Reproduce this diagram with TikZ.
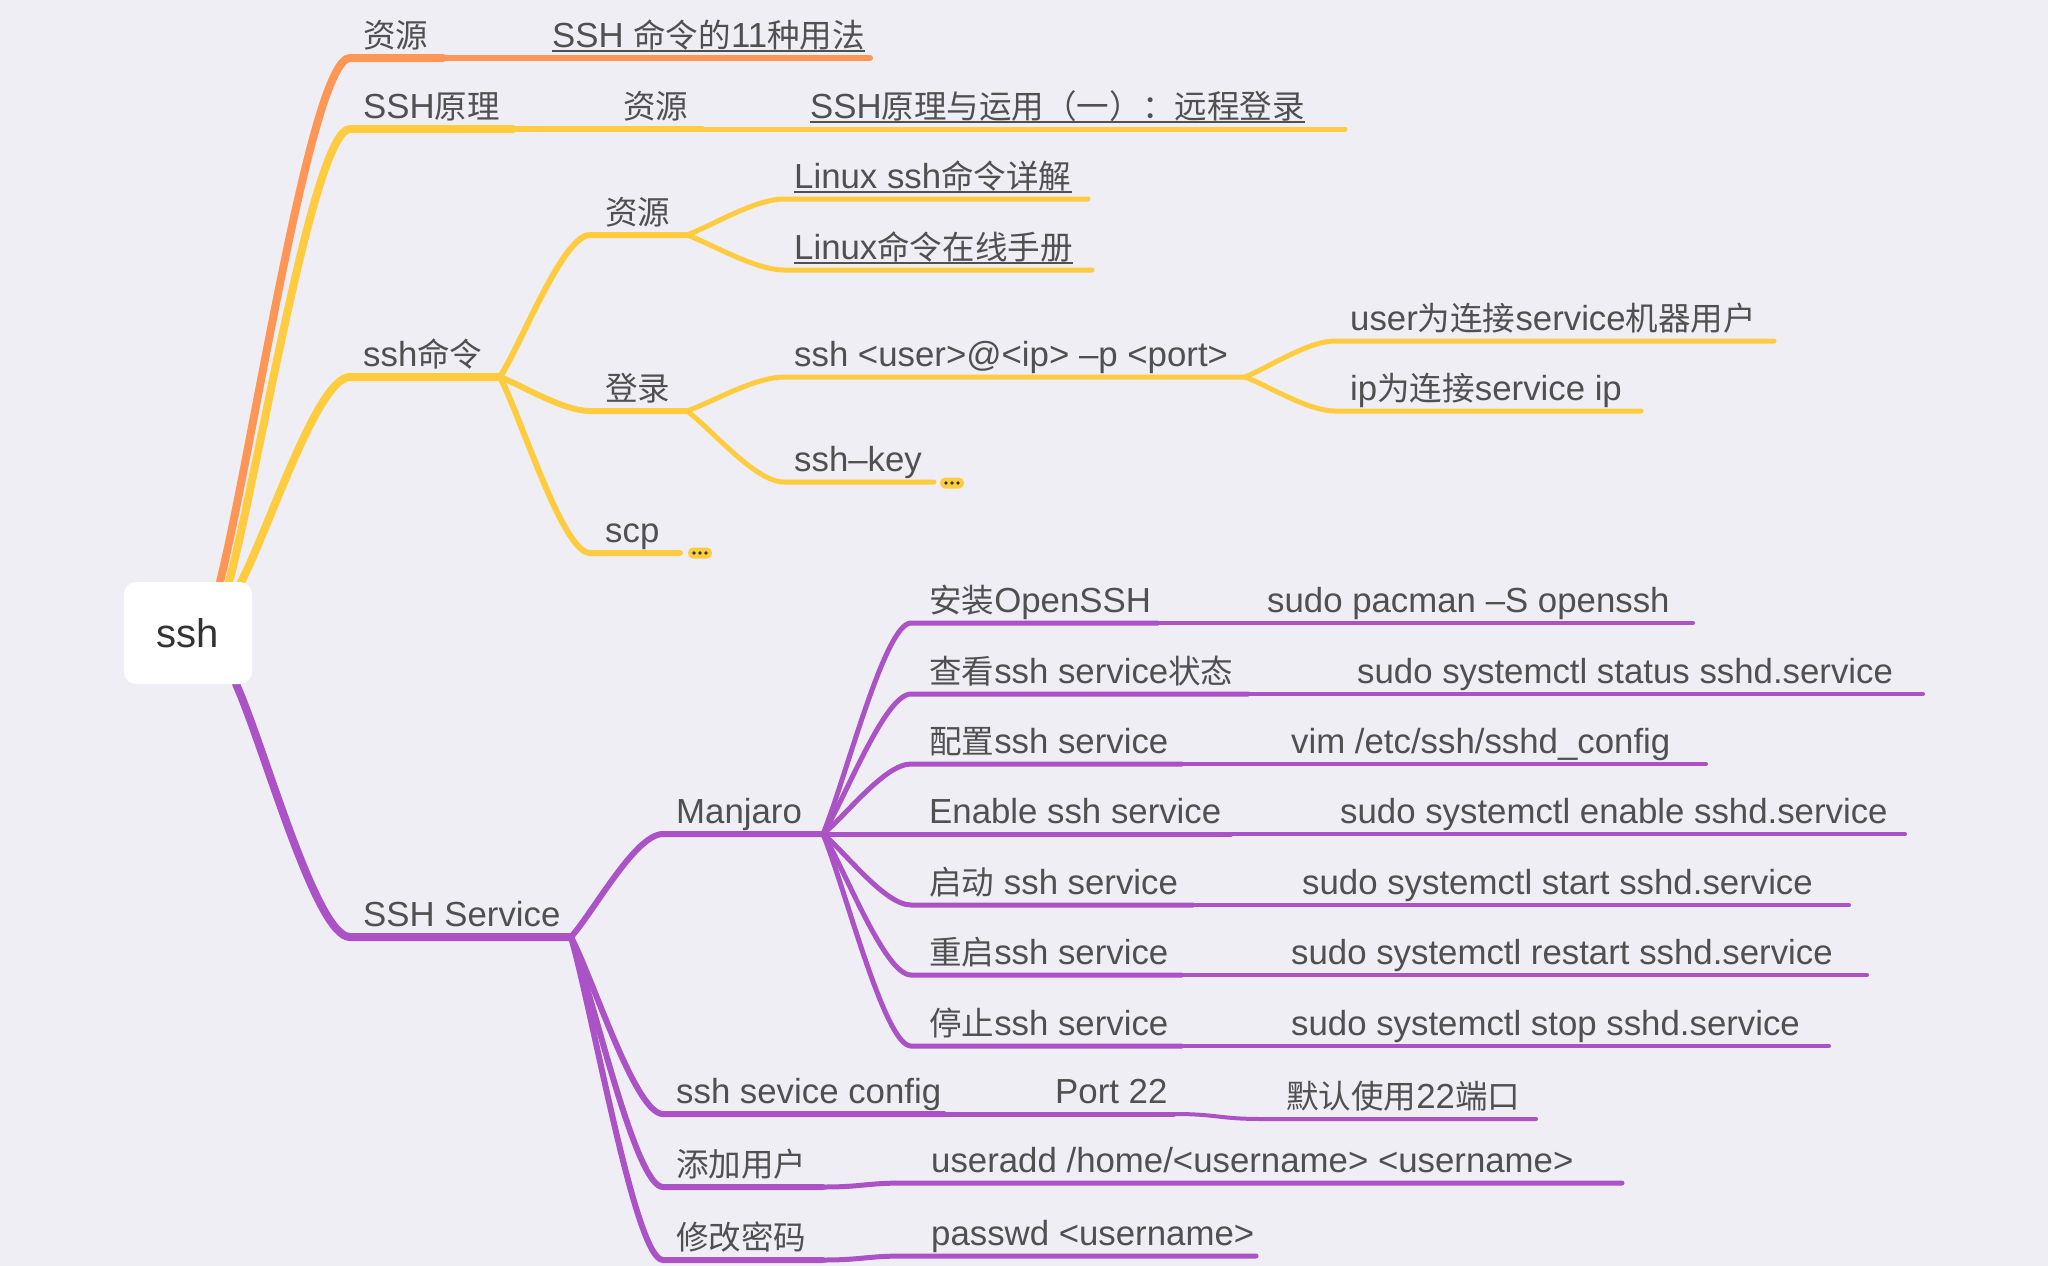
\documentclass[tikz,border=0pt]{standalone}
\usepackage{fontspec}
\setmainfont{Liberation Sans}
\newfontfamily\cjk{Noto Sans CJK SC}[Scale=0.935]
\usetikzlibrary{calc}
\definecolor{bg}{HTML}{EFEEF5}
\definecolor{org}{HTML}{FF9655}
\definecolor{yel}{HTML}{FFCC40}
\definecolor{pur}{HTML}{AB52C6}
\definecolor{txt}{HTML}{505050}
\definecolor{rtxt}{HTML}{333333}
\newcommand\zh[1]{{\cjk #1}}
% connector: from P (#2) to C (#3), then straight on to E (#4)
\newcommand\conn[4][]{\draw[#1] let \p1=(#2), \p2=(#3) in (#2) .. controls ($(#2)!0.25!(#3)$) and ({\x2-0.3*(\x2-\x1)},\y2) .. (#3) -- (#4);}
% Manjaro child row
\newcommand\mrow[7]{%
  \coordinate (#1s) at (911,#2);
  \coordinate (#1m) at (#3,#2);
  \coordinate (#1e) at (#5,#2);
  \conn[wc,pur]{d11}{#1s}{#1m}
  \draw[wd,pur] (#1m) -- (#1e);
  \node[lbl] (#1l) at (929,#2-11) {#6};
  \node[lbl] (#1v) at (#4,#2-11) {#7};
}
\begin{document}
\begin{tikzpicture}[x=1pt,y=-1pt,
  lbl/.style={anchor=base west,inner sep=0pt,text=txt,font=\fontsize{34.8}{40}\selectfont},
  ul/.style={draw=txt,line width=1.8pt},
  wa/.style={line width=8pt,line cap=round},
  wb/.style={line width=6pt,line cap=round},
  wc/.style={line width=5pt,line cap=round},
  wd/.style={line width=4pt,line cap=round},
  badge/.style={fill=yel,rounded corners=5pt,minimum width=24pt,minimum height=11pt,inner sep=0pt,
    path picture={\foreach \k in {-6,0,6}{\fill[rtxt] ([xshift=\k pt]path picture bounding box.center) circle (1.8pt);}}},
  rootbox/.style={fill=white,rounded corners=12pt,minimum width=128pt,minimum height=102pt,inner sep=0pt,text=rtxt,font=\fontsize{40}{48}\selectfont}]
\fill[bg] (0,0) rectangle (2048,1266);
\useasboundingbox (0,0) rectangle (2048,1266);

% root attachment points
\coordinate (r1) at (220,582);
\coordinate (r2) at (229,582);
\coordinate (r3) at (241,582);
\coordinate (r4) at (236,684);

% ---------- orange: 资源
\coordinate (a0) at (350,58);
\coordinate (a1) at (443,58);
\coordinate (a2) at (870,58);
\conn[wa,org]{r1}{a0}{a1}
\draw[wb,org] (a1) -- (a2);
\node[lbl] (ta) at (363,47) {\zh{资源}};
\node[lbl] (tav) at (552,47) {SSH \zh{命令的}11\zh{种用法}};
\draw[ul] ([yshift=-4pt]tav.base west) -- ([yshift=-4pt]tav.base east);

% ---------- yellow: SSH原理
\coordinate (b0) at (350,129);
\coordinate (b1) at (513,129);
\coordinate (b2) at (702,129);
\coordinate (b3) at (1345,129);
\conn[wa,yel]{r2}{b0}{b1}
\draw[wb,yel] (b1) -- (b2);
\draw[wc,yel] (b2) -- (b3);
\node[lbl] (tb) at (363,118) {SSH\zh{原理}};
\node[lbl] (tb1) at (623,118) {\zh{资源}};
\node[lbl] (tb2) at (810,118) {SSH\zh{原理与运用（一）：远程登录}};
\draw[ul] ([yshift=-4pt]tb2.base west) -- ([yshift=-4pt]tb2.base east);

% ---------- yellow: ssh命令
\coordinate (c0) at (350,377);
\coordinate (c1) at (500,377);
\conn[wa,yel]{r3}{c0}{c1}
\node[lbl] (tc) at (363,366) {ssh\zh{命令}};
% 资源
\coordinate (c10) at (590,235);
\coordinate (c11) at (687,235);
\conn[wb,yel]{c1}{c10}{c11}
\node[lbl] (tc1) at (605,224) {\zh{资源}};
\coordinate (c100) at (784,199);
\coordinate (c101) at (1088,199);
\conn[wc,yel]{c11}{c100}{c101}
\node[lbl] (tc100) at (794,188) {Linux ssh\zh{命令详解}};
\draw[ul] ([yshift=-4pt]tc100.base west) -- ([yshift=-4pt]tc100.base east);
\coordinate (c110) at (784,270);
\coordinate (c111) at (1092,270);
\conn[wc,yel]{c11}{c110}{c111}
\node[lbl] (tc110) at (794,259) {Linux\zh{命令在线手册}};
\draw[ul] ([yshift=-4pt]tc110.base west) -- ([yshift=-4pt]tc110.base east);
% 登录
\coordinate (c20) at (590,411);
\coordinate (c21) at (687,411);
\conn[wb,yel]{c1}{c20}{c21}
\node[lbl] (tc2) at (605,400) {\zh{登录}};
\coordinate (c200) at (784,377);
\coordinate (c201) at (1245,377);
\conn[wc,yel]{c21}{c200}{c201}
\node[lbl] (tc200) at (794,366) {ssh <user>@<ip> –p <port>};
\coordinate (c2000) at (1335,341);
\coordinate (c2001) at (1774,341);
\conn[wc,yel]{c201}{c2000}{c2001}
\node[lbl] (tc2000) at (1350,330) {user\zh{为连接}service\zh{机器用户}};
\coordinate (c2010) at (1335,411);
\coordinate (c2011) at (1641,411);
\conn[wc,yel]{c201}{c2010}{c2011}
\node[lbl] (tc2010) at (1350,400) {ip\zh{为连接}service ip};
\coordinate (c210) at (784,482);
\coordinate (c211) at (934,482);
\conn[wc,yel]{c21}{c210}{c211}
\node[lbl] (tc210) at (794,471) {ssh–key};
\node[badge] (bd1) at (952,483) {};
% scp
\coordinate (c30) at (590,553);
\coordinate (c31) at (680,553);
\conn[wb,yel]{c1}{c30}{c31}
\node[lbl] (tc3) at (605,542) {scp};
\node[badge] (bd2) at (700,553) {};

% ---------- purple: SSH Service
\coordinate (d0) at (350,937);
\coordinate (d1) at (571,937);
\conn[wa,pur]{r4}{d0}{d1}
\node[lbl] (td) at (363,926) {SSH Service};
% Manjaro
\coordinate (d10) at (663,834);
\coordinate (d11) at (823,834);
\conn[wb,pur]{d1}{d10}{d11}
\node[lbl] (td1) at (676,823) {Manjaro};
\mrow{ma}{623}{1158}{1267}{1693}{\zh{安装}OpenSSH}{sudo pacman –S openssh}
\mrow{mb}{694}{1248}{1357}{1923}{\zh{查看}ssh service\zh{状态}}{sudo systemctl status sshd.service}
\mrow{mc}{764}{1182}{1291}{1706}{\zh{配置}ssh service}{vim /etc/ssh/sshd\_config}
\mrow{md}{834}{1231}{1340}{1905}{Enable ssh service}{sudo systemctl enable sshd.service}
\mrow{me}{905}{1193}{1302}{1849}{\zh{启动} ssh service}{sudo systemctl start sshd.service}
\mrow{mf}{975}{1182}{1291}{1867}{\zh{重启}ssh service}{sudo systemctl restart sshd.service}
\mrow{mg}{1046}{1182}{1291}{1829}{\zh{停止}ssh service}{sudo systemctl stop sshd.service}
% ssh sevice config
\coordinate (d20) at (663,1114);
\coordinate (d21) at (944,1114);
\coordinate (d22) at (1174,1114);
\coordinate (d23) at (1262,1119);
\coordinate (d24) at (1536,1119);
\conn[wb,pur]{d1}{d20}{d21}
\draw[wc,pur] (d21) -- (d22);
\draw[wd,pur] (d22) .. controls +(44,0) and +(-44,0) .. (d23) -- (d24);
\node[lbl] (td2) at (676,1103) {ssh sevice config};
\node[lbl] (td21) at (1055,1103) {Port 22};
\node[lbl] (td22) at (1286,1108) {\zh{默认使用}22\zh{端口}};
% 添加用户
\coordinate (d30) at (663,1187);
\coordinate (d31) at (823,1187);
\coordinate (d32) at (905,1183);
\coordinate (d33) at (1622,1183);
\conn[wb,pur]{d1}{d30}{d31}
\draw[wc,pur] (d31) .. controls +(40,0) and +(-40,0) .. (d32) -- (d33);
\node[lbl] (td3) at (676,1176) {\zh{添加用户}};
\node[lbl] (td31) at (931,1172) {useradd /home/<username> <username>};
% 修改密码
\coordinate (d40) at (663,1260);
\coordinate (d41) at (823,1260);
\coordinate (d42) at (905,1256);
\coordinate (d43) at (1256,1256);
\conn[wb,pur]{d1}{d40}{d41}
\draw[wc,pur] (d41) .. controls +(40,0) and +(-40,0) .. (d42) -- (d43);
\node[lbl] (td4) at (676,1249) {\zh{修改密码}};
\node[lbl] (td41) at (931,1245) {passwd <username>};

% ---------- root
\node[rootbox] (root) at (188,633) {ssh};
\end{tikzpicture}
\end{document}
